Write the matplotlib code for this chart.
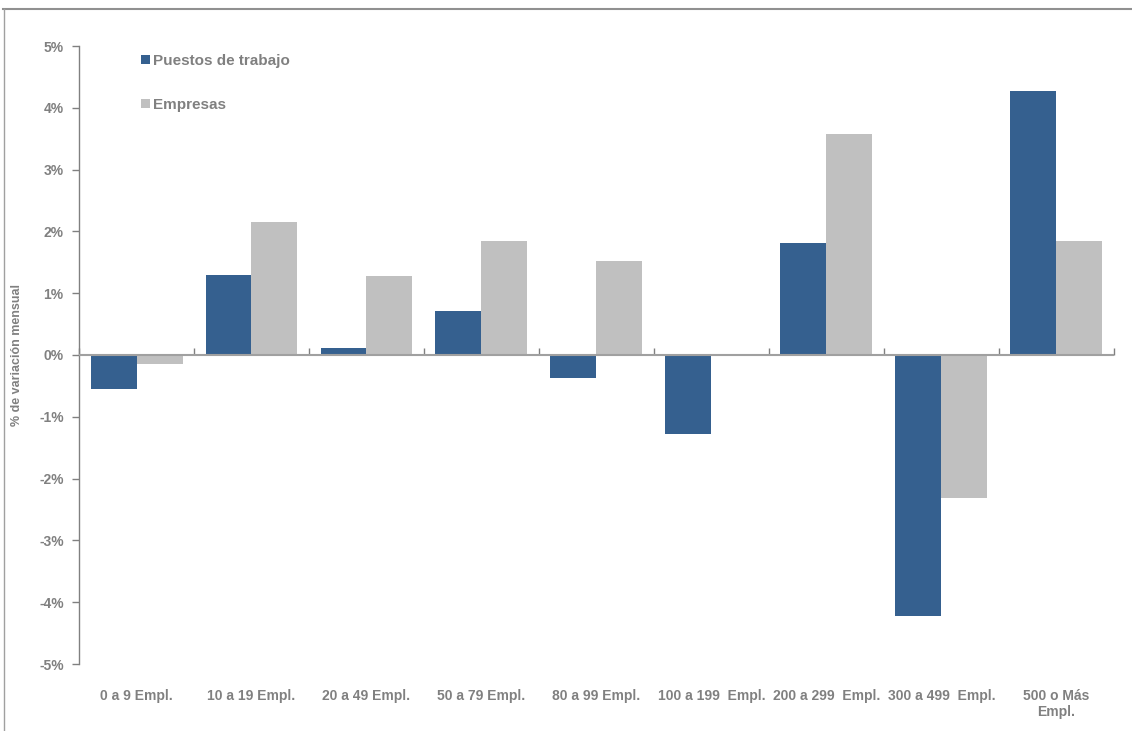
import matplotlib
matplotlib.use("Agg")
import matplotlib.pyplot as plt
from matplotlib.lines import Line2D
from matplotlib.ticker import FuncFormatter
import numpy as np

categories = ["0 a 9 Empl.", "10 a 19 Empl.", "20 a 49 Empl.", "50 a 79 Empl.",
              "80 a 99 Empl.", "100 a 199  Empl.", "200 a 299  Empl.", "300 a 499  Empl.",
              "500 o Más\nEmpl."]
puestos = [-0.55, 1.30, 0.12, 0.72, -0.38, -1.28, 1.82, -4.22, 4.27]
empresas = [-0.15, 2.15, 1.28, 1.85, 1.52, 0.00, 3.57, -2.32, 1.84]
series_names = ["Puestos de trabajo", "Empresas"]
y_ticks = [-5, -4, -3, -2, -1, 0, 1, 2, 3, 4, 5]

plt.rcParams['font.family'] = ['Liberation Sans', 'DejaVu Sans']
GRAY = "#808080"
C1 = "#35608F"
C2 = "#C0C0C0"

fig = plt.figure(figsize=(11.32, 7.31), dpi=100)
ax = fig.add_axes([79/1132, 1-664/731, (1114-79)/1132, (664-46)/731])

x = np.arange(len(categories))
w = 0.4
ax.bar(x - w/2, puestos, w, color=C1, label=series_names[0], zorder=2)
ax.bar(x + w/2, empresas, w, color=C2, label=series_names[1], zorder=2)

ax.set_xlim(-0.5, len(categories) - 0.5)
ax.set_ylim(-5, 5)
ax.set_yticks(y_ticks)
ax.yaxis.set_major_formatter(FuncFormatter(lambda v, p: f"{v:.0f}%"))
ax.tick_params(axis='y', direction='out', length=5, width=1, color=GRAY,
               labelcolor=GRAY, labelsize=10, pad=6)
for lab in ax.get_yticklabels():
    lab.set_fontweight('bold')

ax.set_xticks(x)
ax.set_xticklabels(categories, fontsize=10, fontweight='bold', color=GRAY)
ax.tick_params(axis='x', length=0, pad=18)

for s in ['top', 'right', 'bottom']:
    ax.spines[s].set_visible(False)
ax.spines['left'].set_color(GRAY)
ax.spines['left'].set_linewidth(1)

# zero line with category boundary ticks
ax.axhline(0, color="#A0A0A0", lw=1.5, zorder=3)
sec = ax.secondary_xaxis(0.5)
sec.set_xticks(np.arange(len(categories) + 1) - 0.5)
sec.set_xticklabels([])
sec.tick_params(axis='x', direction='out', length=5, width=1, color=GRAY)
for s in sec.spines.values():
    s.set_visible(False)

ax.set_ylabel("% de variación mensual", fontsize=9, fontweight='bold', color=GRAY)
ax.yaxis.set_label_coords(-(79-23)/1035, 0.5)

leg = ax.legend(loc='upper left', bbox_to_anchor=(0.047, 1.01), frameon=False,
                handlelength=0.55, handleheight=0.55, handletextpad=0.2,
                labelspacing=2.0, prop={'size': 11, 'weight': 'bold'})
for t in leg.get_texts():
    t.set_color(GRAY)

# outer frame (top and left)
fig.add_artist(Line2D([3/1132, 1], [1-9/731, 1-9/731], transform=fig.transFigure,
                      color="#909090", lw=1.5))
fig.add_artist(Line2D([4/1132, 4/1132], [0, 1-9/731], transform=fig.transFigure,
                      color="#A0A0A0", lw=1))

fig.savefig("out.png", dpi=100)
